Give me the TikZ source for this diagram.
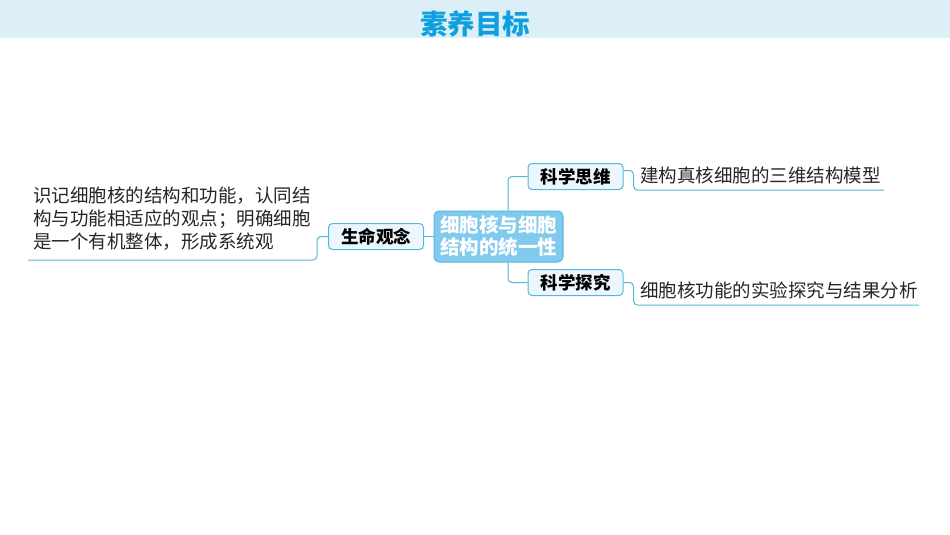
\documentclass[tikz,border=0pt]{standalone}
\usepackage{fontspec}
\newfontfamily\cjk{Noto Sans CJK SC}
\usetikzlibrary{positioning}

\definecolor{bandblue}{RGB}{221,239,246}
\definecolor{titleblue}{RGB}{14,160,222}
\definecolor{lineblue}{RGB}{82,184,222}
\definecolor{boxfill}{RGB}{236,246,252}
\definecolor{corefill}{RGB}{128,202,238}

\begin{document}
\begin{tikzpicture}[x=1pt, y=-1pt,
    link/.style={lineblue, line width=1pt, rounded corners=4pt},
    tagbox/.style={draw=lineblue, fill=boxfill, line width=1pt, rounded corners=4pt,
      minimum width=95pt, minimum height=26pt, inner sep=0pt,
      font=\cjk\bfseries\fontsize{17.5}{20}\selectfont},
    corebox/.style={draw=lineblue, fill=corefill, line width=1pt, rounded corners=5pt,
      minimum width=129pt, minimum height=51pt, inner sep=0pt, align=center,
      text=white, font=\cjk\bfseries\fontsize{19.5}{22}\selectfont},
    goaltext/.style={inner sep=0pt, align=left, text=black!85,
      font=\cjk\fontsize{18.5}{23}\selectfont}]

  % Page and header band
  \useasboundingbox (0,0) rectangle (950,535);
  \fill[white] (0,0) rectangle (950,535);
  \fill[bandblue] (0,0) rectangle (950,38);
  \node[titleblue, inner sep=0pt, anchor=base, font=\cjk\bfseries\fontsize{27.5}{30}\selectfont]
    (title) at (475,35) {素养目标};

  % Centre and branch boxes
  \node[corebox] (core) at (498.5,236.5) {细胞核与细胞\\结构的统一性};
  \node[tagbox] (life) at (376,236.5) {生命观念};
  \node[tagbox] (think) at (575.5,176.5) {科学思维};
  \node[tagbox] (explore) at (575.5,282.5) {科学探究};

  % Ends of the underlines
  \coordinate (lifeend) at (28,260);
  \coordinate (thinkend) at (884,190);
  \coordinate (exploreend) at (919,305);

  % Goal texts (base is the last line)
  \node[goaltext, anchor=base west] (lifetext) at (33,248)
    {识记细胞核的结构和功能，认同结\\构与功能相适应的观点；明确细胞\\是一个有机整体，形成系统观};
  \node[goaltext, anchor=base west] (thinktext) at (640,182) {建构真核细胞的三维结构模型};
  \node[goaltext, anchor=base west] (exploretext) at (640,297) {细胞核功能的实验探究与结果分析};

  % Connectors
  \draw[link] (life.east) -- (core.west);
  \draw[link] ([xshift=9.5]core.north) |- (think.west);
  \draw[link] ([xshift=9.5]core.south) |- (explore.west);
  \draw[link] (life.west) -- ++(-11,0) |- (lifeend);
  \draw[link] ([yshift=6]think.east) -- ++(10,0) |- (thinkend);
  \draw[link] (explore.east) -- ++(10,0) |- (exploreend);
\end{tikzpicture}
\end{document}
